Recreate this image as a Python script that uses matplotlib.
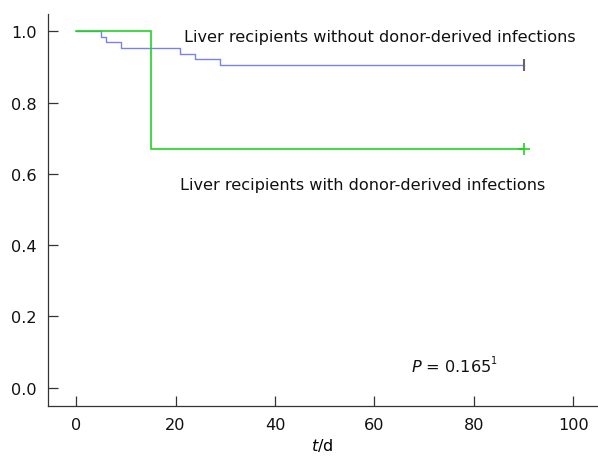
import numpy as np
from matplotlib import pyplot as plt

# Kaplan-Meier step data
t_without = [0, 5, 6, 9, 21, 24, 29, 90]
s_without = [1.0, 0.985, 0.970, 0.952, 0.937, 0.921, 0.906, 0.906]
t_with = [0, 15, 90]
s_with = [1.0, 0.669, 0.669]
censor_t = 90

label_without = "Liver recipients without donor-derived infections"
label_with = "Liver recipients with donor-derived infections"
x_ticks = [0, 20, 40, 60, 80, 100]
y_ticks = [0.0, 0.2, 0.4, 0.6, 0.8, 1.0]

blue = "#7a82ea"
green = "#1fd41f"

fig = plt.figure(figsize=(5.98, 4.64), dpi=100)
ax = fig.add_axes([0.0798, 0.1228, 0.918, 0.845])

ax.step(t_without, s_without, where="post", color=blue, lw=1.0)
ax.step(t_with, s_with, where="post", color=green, lw=1.2)
ax.plot([censor_t], [s_without[-1]], marker="|", ms=8, mew=1.5, color="#666666")
ax.plot([censor_t], [s_with[-1]], marker="+", ms=8, mew=1.2, color=green)

ax.text(21.7, 0.984, label_without, fontsize=11.6, va="center", ha="left", color="#111111")
ax.text(20.9, 0.569, label_with, fontsize=11.6, va="center", ha="left", color="#111111")
p = ax.text(67.3, 0.062, r"$\it{P}$ = 0.165", fontsize=11.6, va="center", ha="left", color="#111111")
ax.annotate("1", xy=(1, 0.85), xycoords=p, fontsize=7, va="center", ha="left", color="#111111")

ax.set_xlim(-5.7, 104.7)
ax.set_ylim(-0.0513, 1.0485)
ax.set_xticks(x_ticks)
ax.set_yticks(y_ticks)
ax.set_yticklabels([f"{v:.1f}" for v in y_ticks])
ax.tick_params(direction="in", length=7, width=0.9, labelsize=11.6, colors="#333333", labelcolor="#111111", pad=8)
ax.set_xlabel(r"$\it{t}$/d", fontsize=11.6, labelpad=3)

for s in ["top", "right"]:
    ax.spines[s].set_visible(False)
for s in ["left", "bottom"]:
    ax.spines[s].set_color("#333333")
    ax.spines[s].set_linewidth(0.9)

fig.savefig("out.png", dpi=100)
